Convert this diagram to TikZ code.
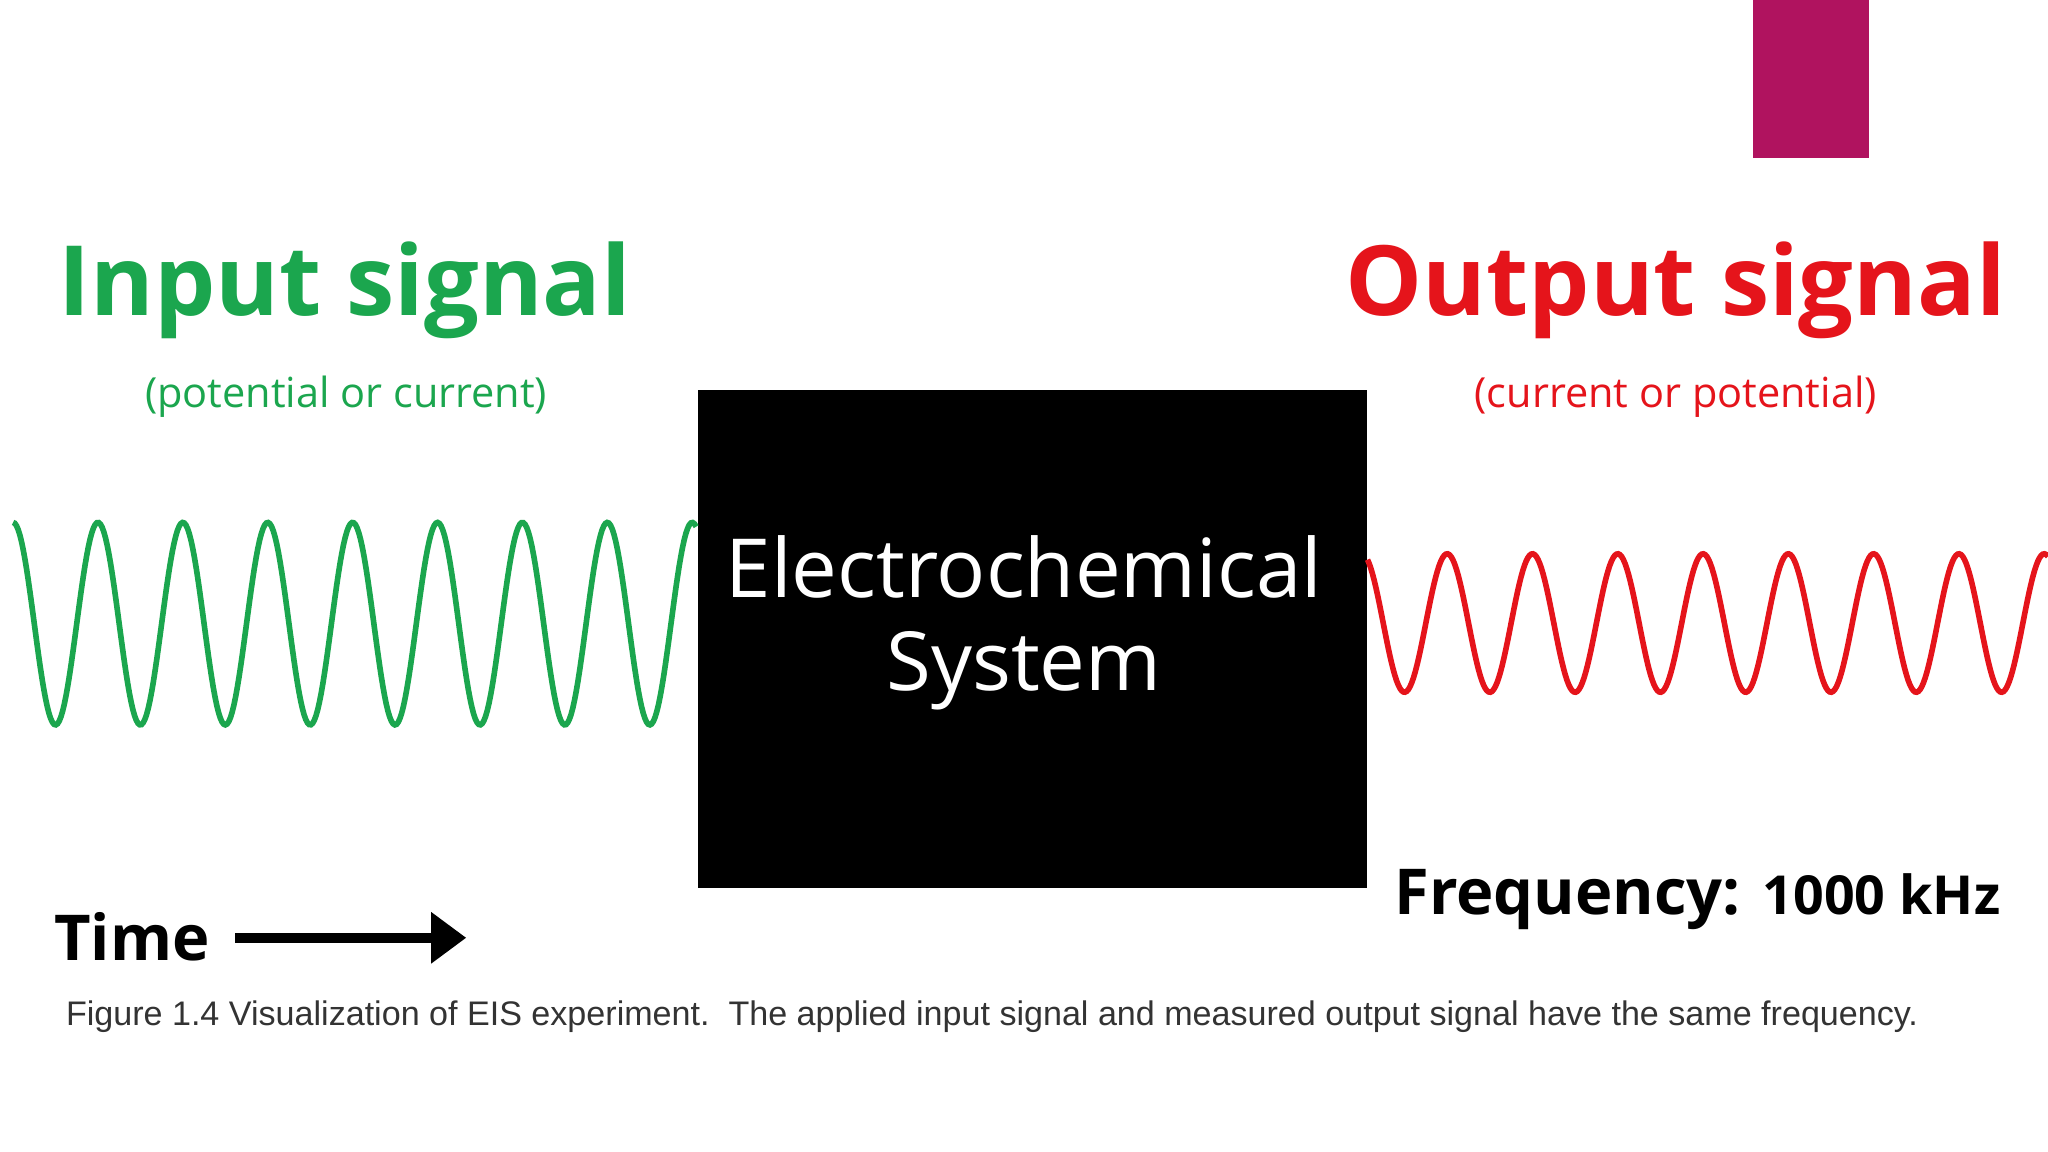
\documentclass[tikz,border=0pt]{standalone}
\usepackage{fontspec}
\setmainfont{Open Sans}
\newfontfamily\capfont{Liberation Sans}
\usetikzlibrary{arrows.meta}
\definecolor{sgreen}{HTML}{1BA64E}
\definecolor{sred}{HTML}{E5141B}
\definecolor{mag}{HTML}{B0135F}
\begin{document}
\begin{tikzpicture}[x=0.013061cm,y=-0.013061cm,
  title/.style={font=\bfseries\fontsize{27.6}{32}\selectfont},
  sub/.style={font=\fontsize{11.8}{14}\selectfont}]
\fill[white] (0,0) rectangle (1568,882);
\useasboundingbox (0,0) rectangle (1568,882);
\fill[mag] (1342,0) rectangle (1431,121);
\node[title,text=sgreen] (in) at (264,222) {Input signal};
\node[sub,text=sgreen] (ins) at (265,304) {(potential or current)};
\node[title,text=sred] (out) at (1283,222) {Output signal};
\node[sub,text=sred] (outs) at (1283,304) {(current or potential)};
\node[fill=black,minimum width=512*0.013061cm,minimum height=381*0.013061cm,inner sep=0,anchor=north west] (box) at (534,298) {};
\node[text=white,align=center,font=\fontsize{23.2}{26.5}\selectfont] (lbl) at (784,477) {Electrochemical\\System};
\draw[sgreen,line width=1.6pt] plot[domain=10:533,samples=400] (\x,{477.5-77.5*cos(5.53846*(\x-10))});
\draw[sred,line width=1.6pt] plot[domain=1047:1568,samples=400] (\x,{477-53*cos(5.51302*(\x-1108))});
\node[font=\bfseries\fontsize{18}{20}\selectfont] (time) at (101,717) {Time};
\coordinate (a1) at (180,718);
\coordinate (a2) at (357,718);
\draw[line width=3pt,-{Triangle[length=10pt,width=14pt]}] (a1) -- (a2);
\node[anchor=base east,font=\bfseries\fontsize{18}{20}\selectfont] (freq) at (1541,700) {Frequency: {\fontsize{15.3}{18}\selectfont 1000 kHz}};
\node[anchor=base west,text=black!80,font=\capfont\fontsize{9.7}{11}\selectfont,inner sep=0] (cap) at (50,785) {Figure 1.4 Visualization of EIS experiment.\ \ The applied input signal and measured output signal have the same frequency.};
\end{tikzpicture}
\end{document}
